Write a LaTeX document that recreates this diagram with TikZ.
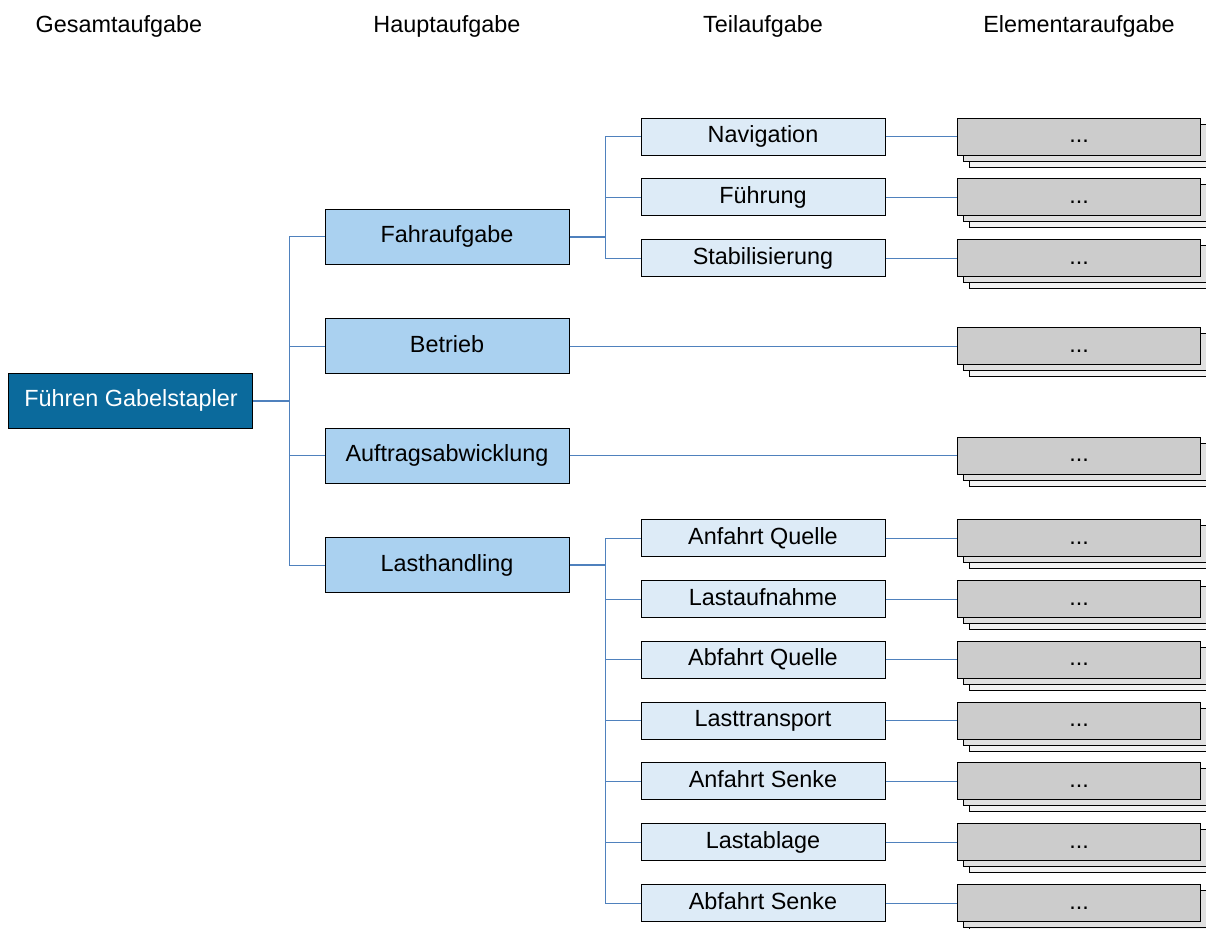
\documentclass[tikz,border=0pt]{standalone}
\usepackage{fontspec}
\setmainfont{Liberation Sans}
\usetikzlibrary{shadows}

\definecolor{rootblue}{RGB}{11,106,156}
\definecolor{mainblue}{RGB}{170,209,240}
\definecolor{subblue}{RGB}{221,235,247}
\definecolor{linkblue}{RGB}{79,129,189}

\begin{document}
\begin{tikzpicture}[node distance=158pt, font=\fontsize{11.7}{14}\selectfont,
  box/.style={rectangle, draw, line width=0.5pt, minimum width=122pt, inner sep=0pt,
    text height=8.4pt, text depth=2.4pt},
  rootbox/.style={box, fill=rootblue, text=white, minimum height=27.5pt},
  mainbox/.style={box, fill=mainblue, minimum height=27.5pt},
  subbox/.style={box, fill=subblue, minimum height=18.5pt},
  elembox/.style={box, fill=black!20, minimum width=121.5pt, minimum height=18.5pt,
    general shadow={shadow xshift=6pt, shadow yshift=-6pt, fill=black!5, draw},
    general shadow={shadow xshift=3pt, shadow yshift=-3pt, fill=black!12, draw}},
  head/.style={inner sep=0pt},
  link/.style={draw=linkblue, line width=0.5pt},
  stem/.style={draw=linkblue, line width=1pt}]
  {
  \useasboundingbox (-65.5pt,200.5pt) rectangle (537.5pt,-264pt);

  % columns
  \node[rootbox] (root) at (0,0) {Führen Gabelstapler};
  \node[head, above of=root, node distance=187.5pt, xshift=-6pt] (hgesamt) {Gesamtaufgabe};
  \node[head, above of=root, node distance=187.5pt, xshift=158pt] (hhaupt) {Hauptaufgabe};
  \node[head, right of=hhaupt] (hteil) {Teilaufgabe};
  \node[head, right of=hteil] (helem) {Elementaraufgabe};

  % Hauptaufgaben
  \node[coordinate, right of=root] (mid) {};
  \node[mainbox, above of=mid, node distance=27.4pt] (betrieb) {Betrieb};
  \node[mainbox, below of=mid, node distance=27.4pt] (auftrag) {Auftragsabwicklung};
  \node[mainbox, above of=betrieb, node distance=54.75pt] (fahr) {Fahraufgabe};
  \node[mainbox, below of=auftrag, node distance=54.75pt] (last) {Lasthandling};

  % Teilaufgaben
  \node[coordinate, right of=fahr] (fahrR) {};
  \node[subbox, above of=fahrR, node distance=50pt] (navi) {Navigation};
  \node[subbox, below of=navi, node distance=30.4pt] (fuehr) {Führung};
  \node[subbox, below of=fuehr, node distance=30.4pt] (stab) {Stabilisierung};

  \node[coordinate, right of=last] (lastR) {};
  \node[subbox, above of=lastR, node distance=13.5pt] (aquelle) {Anfahrt Quelle};
  \node[subbox, below of=aquelle, node distance=30.4pt] (aufnahme) {Lastaufnahme};
  \node[subbox, below of=aufnahme, node distance=30.4pt] (abquelle) {Abfahrt Quelle};
  \node[subbox, below of=abquelle, node distance=30.4pt] (transport) {Lasttransport};
  \node[subbox, below of=transport, node distance=30.4pt] (asenke) {Anfahrt Senke};
  \node[subbox, below of=asenke, node distance=30.4pt] (ablage) {Lastablage};
  \node[subbox, below of=ablage, node distance=30.4pt] (absenke) {Abfahrt Senke};

  % Elementaraufgaben
  \foreach \t in {navi,fuehr,stab,aquelle,aufnahme,abquelle,transport,asenke,ablage,absenke}
    \node[elembox, right of=\t] (e\t) {...};
  \node[elembox, right of=betrieb, node distance=316pt] (ebetrieb) {...};
  \node[elembox, right of=auftrag, node distance=316pt] (eauftrag) {...};

  % Verbindungen
  \draw[stem] (root.east) -- ++(18pt,0) coordinate (bus1);
  \foreach \m in {fahr,betrieb,auftrag,last}
    \draw[link] (bus1) |- (\m.west);
  \draw[stem] (fahr.east) -- ++(18pt,0) coordinate (bus2);
  \foreach \t in {navi,fuehr,stab}
    \draw[link] (bus2) |- (\t.west);
  \draw[stem] (last.east) -- ++(18pt,0) coordinate (bus3);
  \foreach \t in {aquelle,aufnahme,abquelle,transport,asenke,ablage,absenke}
    \draw[link] (bus3) |- (\t.west);
  \foreach \t in {navi,fuehr,stab,betrieb,auftrag,aquelle,aufnahme,abquelle,transport,asenke,ablage,absenke}
    \draw[link] (\t.east) -- (e\t.west);
  }
\end{tikzpicture}
\end{document}
